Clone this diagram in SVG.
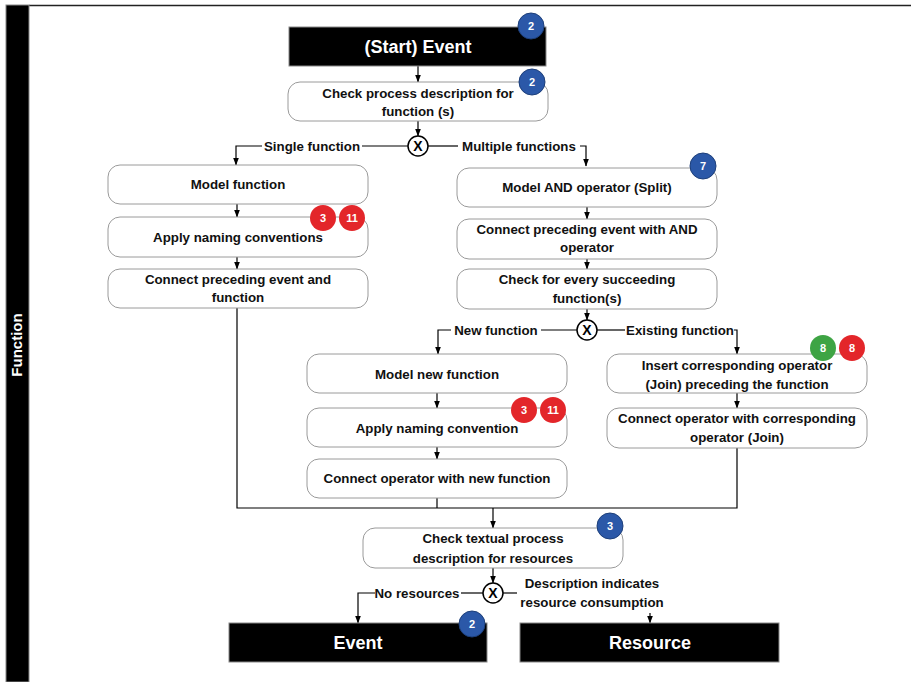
<svg xmlns="http://www.w3.org/2000/svg" width="911" height="682" viewBox="0 0 911 682">
<defs>
<marker id="ah" markerWidth="8" markerHeight="6" refX="7.5" refY="3" orient="auto" markerUnits="userSpaceOnUse">
<path d="M0,0 L8,3 L0,6 Z" fill="#000"/>
</marker>
<style>
.box{fill:#fff;stroke:#9a9a9a;stroke-width:1}
.ev{fill:#000;stroke:#888;stroke-width:1}
.t{font-family:"Liberation Sans",Arial,sans-serif;font-weight:bold;font-size:13.3px;fill:#111;text-anchor:middle}
.et{font-family:"Liberation Sans",Arial,sans-serif;font-weight:bold;font-size:18px;fill:#fff;text-anchor:middle}
.ln{fill:none;stroke:#000;stroke-width:1.2}
.ar{fill:none;stroke:#000;stroke-width:1.2;marker-end:url(#ah)}
.xc{fill:#fff;stroke:#000;stroke-width:1.5}
.xt{font-family:"Liberation Sans",Arial,sans-serif;font-weight:bold;font-size:14px;fill:#000;text-anchor:middle}
.bb{fill:#2b58a8;stroke:#1d3f7a;stroke-width:1}
.br{fill:#e3262a}
.bg{fill:#3ea444}
.bt{font-family:"Liberation Sans",Arial,sans-serif;font-weight:bold;font-size:11px;fill:#fff;text-anchor:middle}
</style>
</defs>
<rect width="911" height="682" fill="#fff"/>
<g id="frame">
<line x1="29" y1="5.5" x2="911" y2="5.5" stroke="#222" stroke-width="1.5"/>
<rect x="6" y="5" width="23" height="677" fill="#000" stroke="#888" stroke-width="1"/>
<text class="et" style="font-size:15px" transform="translate(22,345) rotate(-90)">Function</text>
</g>

<g id="connectors">
<line class="ar" x1="418" y1="66" x2="418" y2="82"/>
<line class="ar" x1="418" y1="121" x2="418" y2="136"/>
<line class="ln" x1="408" y1="146" x2="362" y2="146"/>
<polyline class="ar" points="262,146 236,146 236,165"/>
<line class="ln" x1="428" y1="146" x2="458" y2="146"/>
<polyline class="ar" points="580,146 586,146 586,166"/>
<text class="t" x="312" y="150.5">Single function</text>
<text class="t" x="519" y="150.5">Multiple functions</text>
<line class="ar" x1="237" y1="204" x2="237" y2="217"/>
<line class="ar" x1="237" y1="257" x2="237" y2="269"/>
<line class="ar" x1="587" y1="207" x2="587" y2="219"/>
<line class="ar" x1="587" y1="259" x2="587" y2="269"/>
<line class="ar" x1="587" y1="309" x2="587" y2="320"/>
<line class="ln" x1="577" y1="330" x2="541" y2="330"/>
<polyline class="ar" points="451,330 438,330 438,354"/>
<text class="t" x="496" y="334.5">New function</text>
<line class="ln" x1="597" y1="330" x2="625" y2="330"/>
<polyline class="ar" points="734,330 737,330 737,354"/>
<text class="t" x="680" y="334.5">Existing function</text>
<line class="ar" x1="437" y1="393" x2="437" y2="408"/>
<line class="ar" x1="437" y1="447" x2="437" y2="459"/>
<line class="ar" x1="737" y1="393" x2="737" y2="408"/>
<polyline class="ln" points="237,308 237,508 737,508 737,448"/>
<line class="ln" x1="437" y1="498" x2="437" y2="508"/>
<line class="ar" x1="493" y1="508" x2="493" y2="528"/>
<line class="ar" x1="493" y1="568" x2="493" y2="583"/>
<line class="ln" x1="483" y1="593" x2="461" y2="593"/>
<polyline class="ar" points="375,593 358,593 358,623"/>
<text class="t" x="417" y="598">No resources</text>
<line class="ln" x1="503" y1="593" x2="517" y2="593"/>
<text class="t" x="592" y="588">Description indicates</text>
<text class="t" x="592" y="607">resource consumption</text>
<line class="ar" x1="650" y1="613" x2="650" y2="623"/>
<circle class="xc" cx="418" cy="146" r="10"/>
<text class="xt" x="418" y="151">X</text>
<circle class="xc" cx="587" cy="330" r="10"/>
<text class="xt" x="587" y="335">X</text>
<circle class="xc" cx="493" cy="593" r="10"/>
<text class="xt" x="493" y="598">X</text>
</g>

<g id="start">
<rect class="ev" x="289" y="27" width="257" height="39"/>
<text class="et" x="418" y="53">(Start) Event</text>
<circle class="bb" cx="531" cy="26" r="13"/><text class="bt" x="531" y="30">2</text>
</g>
<g id="check">
<rect class="box" x="288" y="82" width="260" height="39" rx="12"/>
<text class="t" x="418" y="98">Check process description for</text>
<text class="t" x="418" y="116">function (s)</text>
<circle class="bb" cx="532" cy="82" r="13"/><text class="bt" x="532" y="86">2</text>
</g>
<g id="modelfn">
<rect class="box" x="108" y="165" width="260" height="39" rx="12"/>
<text class="t" x="238" y="189">Model function</text>
</g>
<g id="naming1">
<rect class="box" x="108" y="217" width="260" height="40" rx="12"/>
<text class="t" x="238" y="242">Apply naming conventions</text>
<circle class="br" cx="323" cy="218" r="13"/><text class="bt" x="323" y="222">3</text>
<circle class="br" cx="352" cy="218" r="13"/><text class="bt" x="352" y="222">11</text>
</g>
<g id="connect1">
<rect class="box" x="108" y="269" width="260" height="39" rx="12"/>
<text class="t" x="238" y="284">Connect preceding event and</text>
<text class="t" x="238" y="302">function</text>
</g>
<g id="andsplit">
<rect class="box" x="457" y="168" width="260" height="39" rx="12"/>
<text class="t" x="587" y="192">Model AND operator (Split)</text>
<circle class="bb" cx="703" cy="166" r="13"/><text class="bt" x="703" y="170">7</text>
</g>
<g id="connectand">
<rect class="box" x="457" y="219" width="260" height="40" rx="12"/>
<text class="t" x="587" y="234">Connect preceding event with AND</text>
<text class="t" x="587" y="252">operator</text>
</g>
<g id="checkevery">
<rect class="box" x="457" y="269" width="260" height="40" rx="12"/>
<text class="t" x="587" y="284">Check for every succeeding</text>
<text class="t" x="587" y="303">function(s)</text>
</g>
<g id="modelnew">
<rect class="box" x="307" y="354" width="260" height="39" rx="12"/>
<text class="t" x="437" y="379">Model new function</text>
</g>
<g id="naming2">
<rect class="box" x="307" y="408" width="260" height="39" rx="12"/>
<text class="t" x="437" y="433">Apply naming convention</text>
<circle class="br" cx="524" cy="410" r="13"/><text class="bt" x="524" y="414">3</text>
<circle class="br" cx="553" cy="410" r="13"/><text class="bt" x="553" y="414">11</text>
</g>
<g id="connectnew">
<rect class="box" x="307" y="459" width="260" height="39" rx="12"/>
<text class="t" x="437" y="483">Connect operator with new function</text>
</g>
<g id="insertjoin">
<rect class="box" x="607" y="354" width="260" height="39" rx="12"/>
<text class="t" x="737" y="370">Insert corresponding operator</text>
<text class="t" x="737" y="389">(Join) preceding the function</text>
<circle class="bg" cx="823" cy="348" r="13"/><text class="bt" x="823" y="352">8</text>
<circle class="br" cx="852" cy="348" r="13"/><text class="bt" x="852" y="352">8</text>
</g>
<g id="connectjoin">
<rect class="box" x="607" y="408" width="260" height="40" rx="12"/>
<text class="t" x="737" y="423">Connect operator with corresponding</text>
<text class="t" x="737" y="442">operator (Join)</text>
</g>
<g id="checkres">
<rect class="box" x="363" y="528" width="260" height="40" rx="12"/>
<text class="t" x="493" y="543">Check textual process</text>
<text class="t" x="493" y="563">description for resources</text>
<circle class="bb" cx="610" cy="526" r="13"/><text class="bt" x="610" y="530">3</text>
</g>
<g id="event">
<rect class="ev" x="229" y="623" width="258" height="39"/>
<text class="et" x="358" y="649">Event</text>
<circle class="bb" cx="472" cy="624" r="13"/><text class="bt" x="472" y="628">2</text>
</g>
<g id="resource">
<rect class="ev" x="520" y="623" width="259" height="39"/>
<text class="et" x="650" y="649">Resource</text>
</g>
</svg>
